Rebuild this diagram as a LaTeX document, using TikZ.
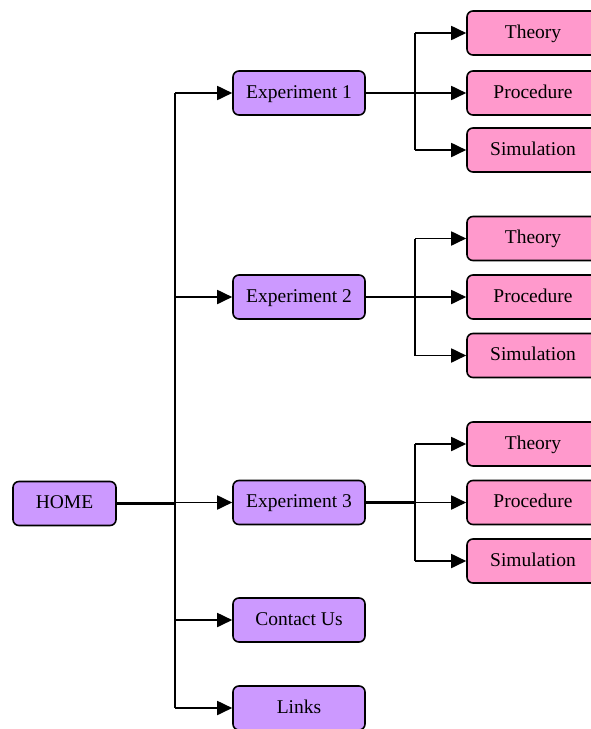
\documentclass[tikz,border=0pt]{standalone}
\usepackage{fontspec}
\setmainfont{Liberation Serif}
\usepackage{tikz}
\usetikzlibrary{arrows.meta,positioning,calc}
\definecolor{lilac}{HTML}{CC99FF}
\definecolor{rosepink}{HTML}{FF99CC}

\begin{document}
\begin{tikzpicture}[x=1pt, y=-1pt, font=\fontsize{19.5}{22}\selectfont, >={Triangle[length=15pt,width=14pt]},
  box/.style={draw, line width=1.6pt, rounded corners=6pt, minimum height=44pt, inner sep=0pt,
    text height=13pt, text depth=3pt},
  menubox/.style={box, fill=lilac, minimum width=132pt},
  pagebox/.style={box, fill=rosepink, minimum width=132pt},
  wire/.style={line width=1.8pt},
  thickwire/.style={line width=2.6pt}]
\useasboundingbox (0,0) rectangle (591,729);

% home and the main trunk
\node[box, fill=lilac, minimum width=103pt] (home) at (64.5,503.5) {HOME};
\coordinate (jtop) at (175,93);
\coordinate (jbot) at (175,708);
\draw[wire] (jtop) -- (jbot);
\draw[thickwire] (home.east) -- (home.east -| jtop);

% menu entries
\foreach \n/\y/\t in {e1/93/{Experiment 1}, e2/297/{Experiment 2}, e3/502.5/{Experiment 3},
  contact/620/{Contact Us}, links/708/{Links}} {
  \node[menubox] (\n) at (299,\y) {\t};
  \draw[wire, ->] (\n.west -| jtop) -- (\n.west);
}

% pages of each experiment
\foreach \i/\yt/\yp/\ys in {1/33/93/150, 2/238.5/297/355.5, 3/444/502.5/561} {
  \node[pagebox] (t\i) at (533,\yt) {Theory};
  \node[pagebox] (p\i) at (533,\yp) {Procedure};
  \node[pagebox] (s\i) at (533,\ys) {Simulation};
  \coordinate (b\i) at (415,\yp);
  \draw[wire] (t\i.west -| b\i) -- (s\i.west -| b\i);
  \draw[wire, ->] (t\i.west -| b\i) -- (t\i.west);
  \draw[wire, ->] (b\i) -- (p\i.west);
  \draw[wire, ->] (s\i.west -| b\i) -- (s\i.west);
}
\draw[thickwire] (e1.east) -- (b1);
\draw[wire] (e2.east) -- (b2);
\draw[thickwire] (e3.east) -- (b3);
\end{tikzpicture}
\end{document}
